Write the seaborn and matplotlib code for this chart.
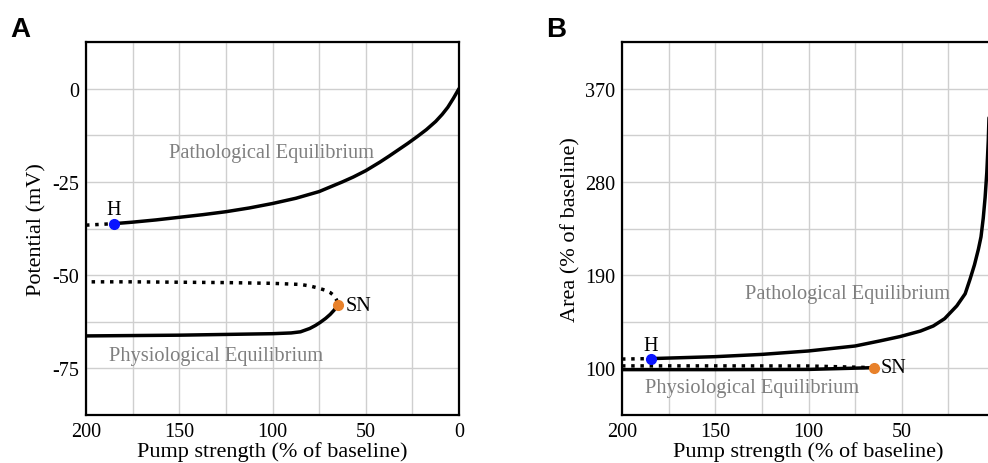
import matplotlib
matplotlib.use('Agg')
import matplotlib.pyplot as plt
import seaborn as sns
import numpy as np
from matplotlib.ticker import MultipleLocator

# painel A - potencial
a_pat_tr_x = [200, 185]
a_pat_tr_y = [-36.6, -36.2]
a_pat_x = [185, 175, 162.5, 150, 137.5, 125, 112.5, 100, 87.5, 75, 62.5, 56.7, 50, 42.4, 37.5, 32.5, 27.5, 22.5, 17.5, 12.5, 9, 6, 3, 0]
a_pat_y = [-36.2, -35.8, -35.2, -34.5, -33.8, -33.0, -32.0, -30.8, -29.4, -27.6, -25.0, -23.7, -22.0, -19.7, -18.1, -16.4, -14.7, -12.9, -11.0, -8.8, -6.9, -5.0, -2.6, 0.0]
a_inst_x = [197, 175, 150, 125, 100, 85, 80, 76, 72, 69, 67, 65.7, 65]
a_inst_y = [-51.8, -51.8, -51.9, -52.0, -52.2, -52.5, -52.9, -53.4, -54.0, -54.7, -55.5, -56.6, -58.1]
a_fis_x = [200, 175, 150, 125, 100, 90, 85, 80, 77, 74.5, 71.5, 69, 67, 65]
a_fis_y = [-66.3, -66.2, -66.1, -65.9, -65.7, -65.5, -65.2, -64.3, -63.5, -62.7, -61.6, -60.5, -59.4, -58.1]
a_h = (185, -36.2)
a_sn = (65, -58.1)

# painel B - area
b_pat_tr_x = [200, 185]
b_pat_tr_y = [109.0, 109.4]
b_pat_x = [185, 150, 125, 100, 75, 61.7, 50.9, 40, 33.1, 27, 20.5, 16, 13.4, 11, 8.9, 7.5, 6.3, 5.3, 4.4, 3.6, 2.9, 2.2]
b_pat_y = [109.4, 111.3, 113.5, 116.8, 121.6, 126.5, 130.7, 136.0, 140.9, 148.0, 160.3, 172.0, 186.0, 200.0, 215.0, 227.0, 245.0, 265.0, 289.0, 320.0, 360.0, 420.0]
b_inst_x = [200, 150, 100, 65]
b_inst_y = [102.4, 102.4, 102.3, 100.7]
b_fis_x = [200, 150, 100, 65]
b_fis_y = [98.8, 98.8, 99.0, 100.7]
b_h = (184.6, 109.4)
b_sn = (65, 100.7)

sns.set_theme(style="white")
plt.rcParams['font.family'] = ['Liberation Serif', 'DejaVu Serif']
plt.rcParams['axes.unicode_minus'] = False
plt.rcParams['text.color'] = 'black'
plt.rcParams['axes.labelcolor'] = 'black'

cinza_texto = '#7f7f7f'
cor_grade = '#cfcfcf'
azul = '#0a14ff'
laranja = '#e8812a'

fig = plt.figure(figsize=(9.88, 4.64), dpi=100)
ax_a = fig.add_axes([86/988, 48/464, 373/988, 373/464])
ax_b = fig.add_axes([622/988, 48/464, 373/988, 373/464])


def estilo(ax, ylim, ticks_y, grade_y):
    ax.set_xlim(200, 0)
    ax.set_ylim(*ylim)
    ax.xaxis.set_major_locator(MultipleLocator(50))
    ax.xaxis.set_minor_locator(MultipleLocator(25))
    ax.set_yticks(ticks_y)
    ax.set_yticks(grade_y, minor=True)
    ax.grid(True, which='both', color=cor_grade, linewidth=1.0)
    ax.set_axisbelow(True)
    ax.tick_params(which='both', length=0, labelsize=14.5, colors='black', pad=5)
    for s in ax.spines.values():
        s.set_color('black')
        s.set_linewidth(1.6)
    ax.set_xlabel('Pump strength (% of baseline)', fontsize=16)
    ax.xaxis.set_label_coords(0.5, -0.069)


lw = 2.5
kw_sol = dict(color='black', lw=lw, solid_capstyle='round', solid_joinstyle='round')
kw_pont = dict(color='black', lw=lw, ls=':')

# painel A
sns.lineplot(x=a_pat_tr_x, y=a_pat_tr_y, sort=False, ax=ax_a, **kw_pont)
sns.lineplot(x=a_pat_x, y=a_pat_y, sort=False, ax=ax_a, **kw_sol)
sns.lineplot(x=a_inst_x, y=a_inst_y, sort=False, ax=ax_a, **kw_pont)
sns.lineplot(x=a_fis_x, y=a_fis_y, sort=False, ax=ax_a, **kw_sol)
ax_a.plot(*a_h, 'o', color=azul, ms=7, zorder=5)
ax_a.plot(*a_sn, 'o', color=laranja, ms=7, zorder=5)
ax_a.text(185, -32.4, 'H', fontsize=14.5, ha='center', va='center')
ax_a.text(61, -58.1, 'SN', fontsize=14.5, ha='left', va='center')
ax_a.text(100.3, -17.2, 'Pathological Equilibrium', fontsize=14.7, color=cinza_texto, ha='center', va='center')
ax_a.text(130, -71.5, 'Physiological Equilibrium', fontsize=14.7, color=cinza_texto, ha='center', va='center')
estilo(ax_a, (-87.5, 12.5), [0, -25, -50, -75], [-87.5, -62.5, -37.5, -12.5, 12.5])
ax_a.set_ylabel('Potential (mV)', fontsize=16)
ax_a.yaxis.set_label_coords(-0.107, 0.5)

# painel B
sns.lineplot(x=b_pat_tr_x, y=b_pat_tr_y, sort=False, ax=ax_b, **kw_pont)
sns.lineplot(x=b_pat_x, y=b_pat_y, sort=False, ax=ax_b, **kw_sol)
sns.lineplot(x=b_fis_x, y=b_fis_y, sort=False, ax=ax_b, **kw_sol)
sns.lineplot(x=b_inst_x, y=b_inst_y, sort=False, ax=ax_b, **kw_pont)
ax_b.plot(*b_h, 'o', color=azul, ms=7, zorder=5)
ax_b.plot(*b_sn, 'o', color=laranja, ms=7, zorder=5)
ax_b.text(184.6, 121.6, 'H', fontsize=14.5, ha='center', va='center')
ax_b.text(61.3, 100.7, 'SN', fontsize=14.5, ha='left', va='center')
ax_b.text(79.2, 172.6, 'Pathological Equilibrium', fontsize=14.7, color=cinza_texto, ha='center', va='center')
ax_b.text(130, 81.3, 'Physiological Equilibrium', fontsize=14.7, color=cinza_texto, ha='center', va='center')
estilo(ax_b, (55, 415), [100, 190, 280, 370], [55, 145, 235, 325, 415])
ax_b.set_xticks([200, 150, 100, 50])
ax_b.set_ylabel('Area (% of baseline)', fontsize=16)
ax_b.yaxis.set_label_coords(-0.11, 0.5)

for ax in (ax_a, ax_b):
    leg = ax.get_legend()
    if leg:
        leg.remove()

fig.text(10/988, 1 - 37/464, 'A', fontsize=20, fontweight='bold', color='black', family=['Liberation Sans', 'DejaVu Sans'])
fig.text(546/988, 1 - 37/464, 'B', fontsize=20, fontweight='bold', color='black', family=['Liberation Sans', 'DejaVu Sans'])

fig.savefig('out.png', dpi=100)
